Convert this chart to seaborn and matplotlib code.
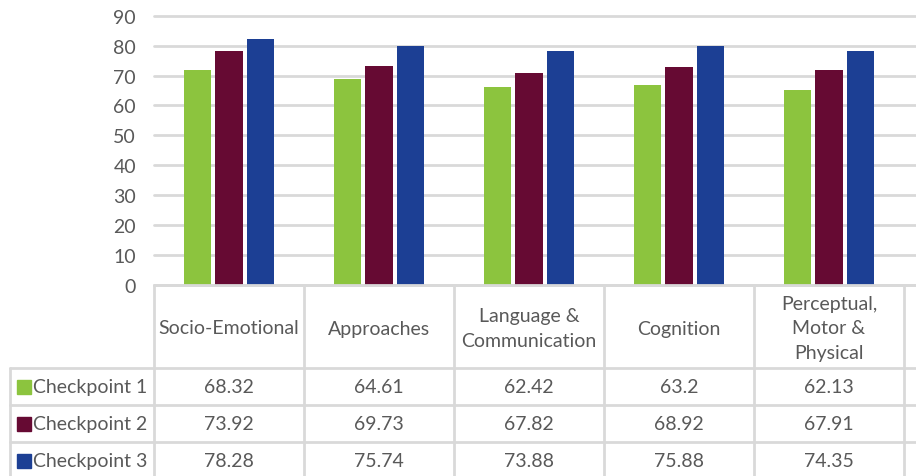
import matplotlib
matplotlib.use("Agg")
import matplotlib.pyplot as plt
from matplotlib.patches import Rectangle
import pandas as pd
import seaborn as sns

categories = ["Socio-Emotional", "Approaches", "Language &\nCommunication",
              "Cognition", "Perceptual,\nMotor &\nPhysical"]
series = ["Checkpoint 1", "Checkpoint 2", "Checkpoint 3"]

# bar heights as drawn in the picture
cp1_bars = [72.0, 68.7, 66.3, 67.0, 65.3]
cp2_bars = [78.3, 73.3, 71.0, 72.7, 72.0]
cp3_bars = [82.3, 80.0, 78.3, 80.0, 78.3]

# values printed in the data table
cp1_table = ["68.32", "64.61", "62.42", "63.2", "62.13"]
cp2_table = ["73.92", "69.73", "67.82", "68.92", "67.91"]
cp3_table = ["78.28", "75.74", "73.88", "75.88", "74.35"]

colors = ["#8CC43E", "#660A33", "#1C3F94"]
y_ticks = [0, 10, 20, 30, 40, 50, 60, 70, 80, 90]

text_col = "#595959"
line_col = "#D9D9D9"

sns.set_theme(style="white")
plt.rcParams["font.family"] = ["Lato", "DejaVu Sans"]

W, H = 916, 477
fig = plt.figure(figsize=(W / 100, H / 100), dpi=100)

ax_left, ax_right = 154, 916
ax_top, ax_base = 16.7, 286
ax = fig.add_axes([ax_left / W, 1 - ax_base / H, (ax_right - ax_left) / W, (ax_base - ax_top) / H])

rows = []
for s, vals in zip(series, [cp1_bars, cp2_bars, cp3_bars]):
    for c, v in zip(categories, vals):
        rows.append({"category": c, "series": s, "value": v})
df = pd.DataFrame(rows)

sns.barplot(data=df, x="category", y="value", hue="series", palette=colors,
            saturation=1, width=0.63, gap=0.12, errorbar=None, legend=False,
            linewidth=0, ax=ax, zorder=3)

x_max = -0.5 + (ax_right - ax_left) / 150
ax.set_xlim(-0.5, x_max)
ax.set_ylim(0, 90)
ax.set_yticks(y_ticks)
ax.set_yticklabels([str(t) for t in y_ticks], color=text_col, fontsize=14)
ax.tick_params(axis="y", length=0, pad=13)
ax.set_xticks([])
ax.set_xlabel("")
ax.set_ylabel("")
for sp in ax.spines.values():
    sp.set_visible(False)
for t in y_ticks:
    ax.axhline(t, color=line_col, lw=2, zorder=1, clip_on=False)

# data table below the plot
tab = fig.add_axes([ax_left / W, 0, (ax_right - ax_left) / W, (H - ax_base) / H])
tab.set_xlim(-0.5, x_max)
tab.set_ylim(H - ax_base, 0)
tab.axis("off")


def px(x):
    return (x - ax_left) / 150 - 0.5


header_h = 83
row_h = 37
label_left = px(10)

for i in range(6):
    tab.plot([i - 0.5, i - 0.5], [0, H], color=line_col, lw=2, clip_on=False)
tab.plot([label_left, label_left], [header_h, H], color=line_col, lw=2, clip_on=False)
tab.plot([-0.5, x_max], [0, 0], color=line_col, lw=2, clip_on=False)
for r in range(3):
    y = header_h + r * row_h
    tab.plot([label_left, x_max], [y, y], color=line_col, lw=2, clip_on=False)

for i, c in enumerate(categories):
    tab.text(i, header_h / 2 + 1.5, c, ha="center", va="center", color=text_col,
             fontsize=14, linespacing=1.55)

for r, (s, vals) in enumerate(zip(series, [cp1_table, cp2_table, cp3_table])):
    yc = header_h + r * row_h + row_h / 2
    tab.add_patch(Rectangle((px(17), yc - 7), px(31) - px(17), 14,
                            color=colors[r], clip_on=False))
    tab.text(px(33), yc, s, ha="left", va="center", color=text_col, fontsize=14)
    for i, v in enumerate(vals):
        tab.text(i, yc, v, ha="center", va="center", color=text_col, fontsize=14)

fig.savefig("out.png", dpi=100)
